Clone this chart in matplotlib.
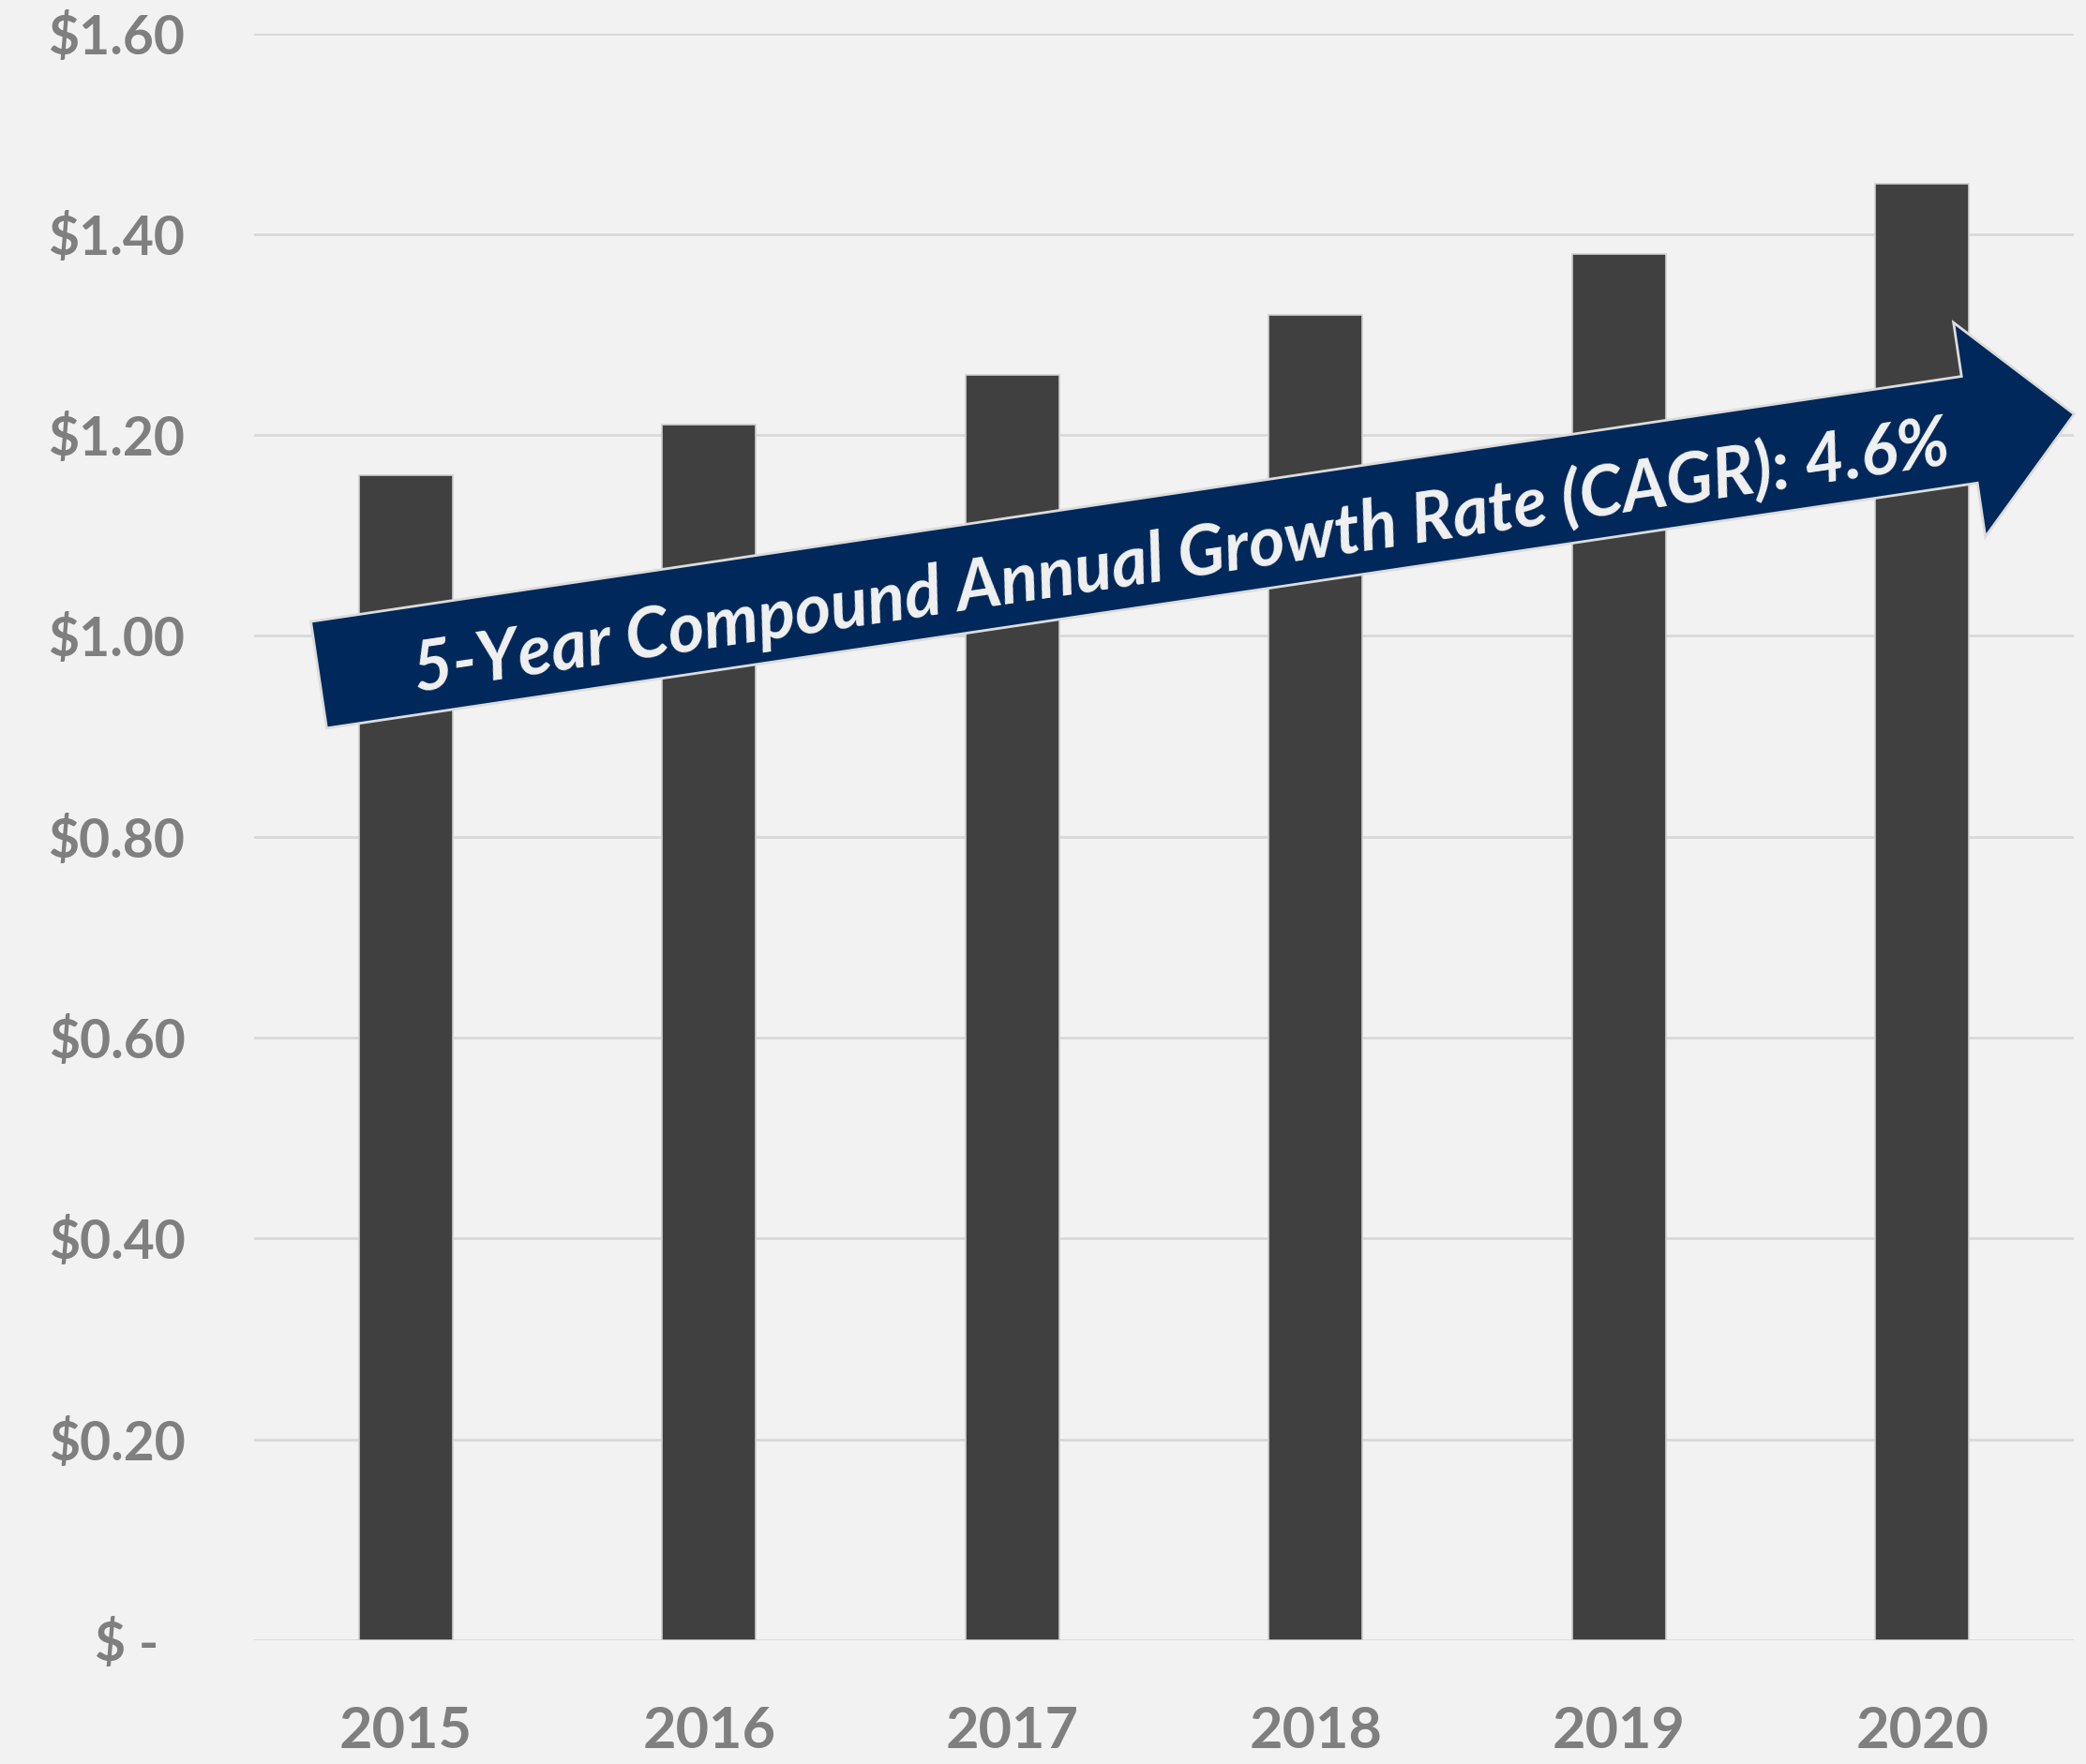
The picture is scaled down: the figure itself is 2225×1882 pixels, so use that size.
import numpy as np
import matplotlib
matplotlib.use("Agg")
import matplotlib.pyplot as plt
from matplotlib.patches import Polygon

# %% data
years = ["2015", "2016", "2017", "2018", "2019", "2020"]
values = [1.16, 1.21, 1.26, 1.32, 1.38, 1.45]
y_ticks = [0.0, 0.2, 0.4, 0.6, 0.8, 1.0, 1.2, 1.4, 1.6]
y_labels = ["$ -  ", "$0.20", "$0.40", "$0.60", "$0.80", "$1.00", "$1.20", "$1.40", "$1.60"]
arrow_text = "5-Year Compound Annual Growth Rate (CAGR): 4.6%"

W, H = 2225, 1882
bg = "#f2f2f2"
grey = "#7f7f7f"

fig = plt.figure(figsize=(W / 100, H / 100), dpi=100, facecolor=bg)
ax = fig.add_axes([271 / W, 1 - 1750 / H, (2212 - 271) / W, (1750 - 35.5) / H])
ax.set_facecolor(bg)

x = np.arange(len(years))
ax.bar(x, values, width=0.31, color="#404040", edgecolor="#d0d0d0", linewidth=1.2, zorder=3)

ax.set_xlim(-0.5, len(years) - 0.5)
ax.set_ylim(0, 1.6)
ax.set_yticks(y_ticks)
ax.set_yticklabels(y_labels)
ax.set_xticks(x)
ax.set_xticklabels(years)
ax.yaxis.grid(True, color="#d9d9d9", linewidth=2)
ax.set_axisbelow(True)
for s in ax.spines.values():
    s.set_visible(False)
ax.tick_params(axis="both", length=0)
ax.tick_params(axis="y", pad=53)
ax.tick_params(axis="x", pad=50)
for lab in ax.get_yticklabels():
    lab.set_fontfamily("Lato")
    lab.set_fontweight("bold")
    lab.set_fontsize(41)
    lab.set_color(grey)
for lab in ax.get_xticklabels():
    lab.set_fontfamily("Lato")
    lab.set_fontweight("bold")
    lab.set_fontsize(44)
    lab.set_color(grey)

# %% growth arrow (pixel layout, origin top-left)
tail = np.array([340.0, 720.0])
ang = np.deg2rad(8.45)
u = np.array([np.cos(ang), -np.sin(ang)])
n = np.array([np.sin(ang), np.cos(ang)])
L, head_len, hw, HW = 1893, 113, 57.5, 115.5
base = tail + u * (L - head_len)
pts = [tail - n * hw, base - n * hw, base - n * HW, tail + u * L,
       base + n * HW, base + n * hw, tail + n * hw]
pts = [(p[0] / W, 1 - p[1] / H) for p in pts]
arrow = Polygon(pts, closed=True, transform=fig.transFigure, facecolor="#00285a",
                edgecolor="#dcdcdc", linewidth=2, zorder=5)
fig.patches.append(arrow)

c = tail + u * 928 + n * 10
fig.text(c[0] / W, 1 - c[1] / H, arrow_text, rotation=8.45, rotation_mode="anchor",
         ha="center", va="center", fontsize=53, fontstyle="italic", fontweight="bold",
         fontfamily="Lato", color="#f2f2f2", zorder=6)

fig.savefig("out.png", dpi=100, facecolor=bg)
